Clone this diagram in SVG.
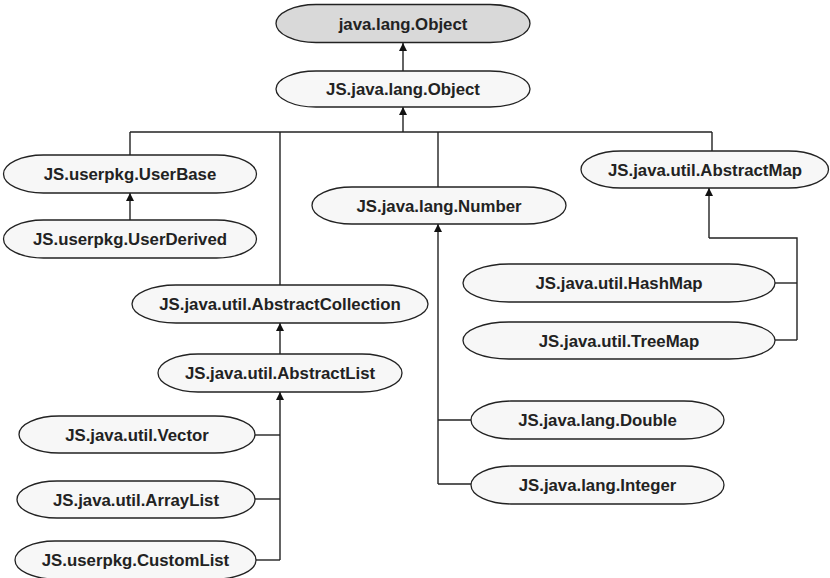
<svg xmlns="http://www.w3.org/2000/svg" width="830" height="578" viewBox="0 0 830 578">
<defs>
<style>
.n rect{fill:#f7f7f7;stroke:#222;stroke-width:1.3}
.n.root rect{fill:#d9d9d9}
.n text{font-family:"Liberation Sans",Arial,sans-serif;font-weight:bold;font-size:16.8px;fill:#222;text-anchor:middle}
.c path{fill:none;stroke:#222;stroke-width:1.4}
.c path.a{marker-end:url(#ah)}
</style>
<marker id="ah" viewBox="0 0 10 10" refX="10" refY="5" markerWidth="8" markerHeight="9" markerUnits="userSpaceOnUse" orient="auto">
<path d="M0,0 L10,5 L0,10 Z" fill="#111"/>
</marker>
</defs>
<rect width="830" height="578" fill="#fff"/>
<g class="c" id="connectors">
<path class="a" d="M403,71 V43"/>
<path class="a" d="M403,132 V107"/>
<path d="M130,132 H712"/>
<path d="M130,132 V155"/>
<path d="M280,132 V285"/>
<path d="M438,132 V187"/>
<path d="M712,132 V151"/>
<path class="a" d="M130,220 V193"/>
<path class="a" d="M280,354 V323"/>
<path class="a" d="M280,560 V392"/>
<path d="M255,435 H280"/>
<path d="M255,499 H280"/>
<path d="M256,560 H280"/>
<path class="a" d="M438,484 V224"/>
<path d="M438,420 H471"/>
<path d="M438,484 H471"/>
<path class="a" d="M709,238 V188"/>
<path d="M709,238 H797 V340"/>
<path d="M775,283 H797"/>
<path d="M775,340 H797"/>
</g>
<g class="n root" id="n-java-lang-Object"><rect x="276" y="4.5" width="254" height="38" rx="40" ry="19"/><text x="403" y="29.5">java.lang.Object</text></g>
<g class="n" id="n-JS-java-lang-Object"><rect x="276" y="71" width="254" height="36" rx="40" ry="18"/><text x="403" y="95">JS.java.lang.Object</text></g>
<g class="n" id="n-UserBase"><rect x="3.5" y="155" width="253" height="38" rx="40" ry="19"/><text x="130" y="180">JS.userpkg.UserBase</text></g>
<g class="n" id="n-UserDerived"><rect x="3.5" y="220" width="253" height="38" rx="40" ry="19"/><text x="130" y="245">JS.userpkg.UserDerived</text></g>
<g class="n" id="n-Number"><rect x="312" y="187" width="254" height="37" rx="40" ry="18.5"/><text x="439" y="211.5">JS.java.lang.Number</text></g>
<g class="n" id="n-AbstractMap"><rect x="581" y="151" width="247.5" height="37" rx="40" ry="18.5"/><text x="705" y="175.5">JS.java.util.AbstractMap</text></g>
<g class="n" id="n-HashMap"><rect x="463" y="264" width="312" height="38" rx="46" ry="19"/><text x="619" y="289">JS.java.util.HashMap</text></g>
<g class="n" id="n-TreeMap"><rect x="463" y="322" width="312" height="37" rx="46" ry="18.5"/><text x="619" y="346.5">JS.java.util.TreeMap</text></g>
<g class="n" id="n-AbstractCollection"><rect x="132" y="285" width="296" height="38" rx="44" ry="19"/><text x="280" y="310">JS.java.util.AbstractCollection</text></g>
<g class="n" id="n-AbstractList"><rect x="158" y="354" width="244" height="38" rx="40" ry="19"/><text x="280" y="379">JS.java.util.AbstractList</text></g>
<g class="n" id="n-Vector"><rect x="19" y="416" width="236" height="37" rx="40" ry="18.5"/><text x="137" y="440.5">JS.java.util.Vector</text></g>
<g class="n" id="n-ArrayList"><rect x="17" y="481" width="238" height="37" rx="40" ry="18.5"/><text x="136" y="505.5">JS.java.util.ArrayList</text></g>
<g class="n" id="n-CustomList"><rect x="15" y="541" width="241" height="38" rx="40" ry="19"/><text x="135.5" y="566">JS.userpkg.CustomList</text></g>
<g class="n" id="n-Double"><rect x="471" y="401" width="253" height="38" rx="40" ry="19"/><text x="597.5" y="426">JS.java.lang.Double</text></g>
<g class="n" id="n-Integer"><rect x="471" y="466" width="253" height="38" rx="40" ry="19"/><text x="597.5" y="491">JS.java.lang.Integer</text></g>
</svg>
